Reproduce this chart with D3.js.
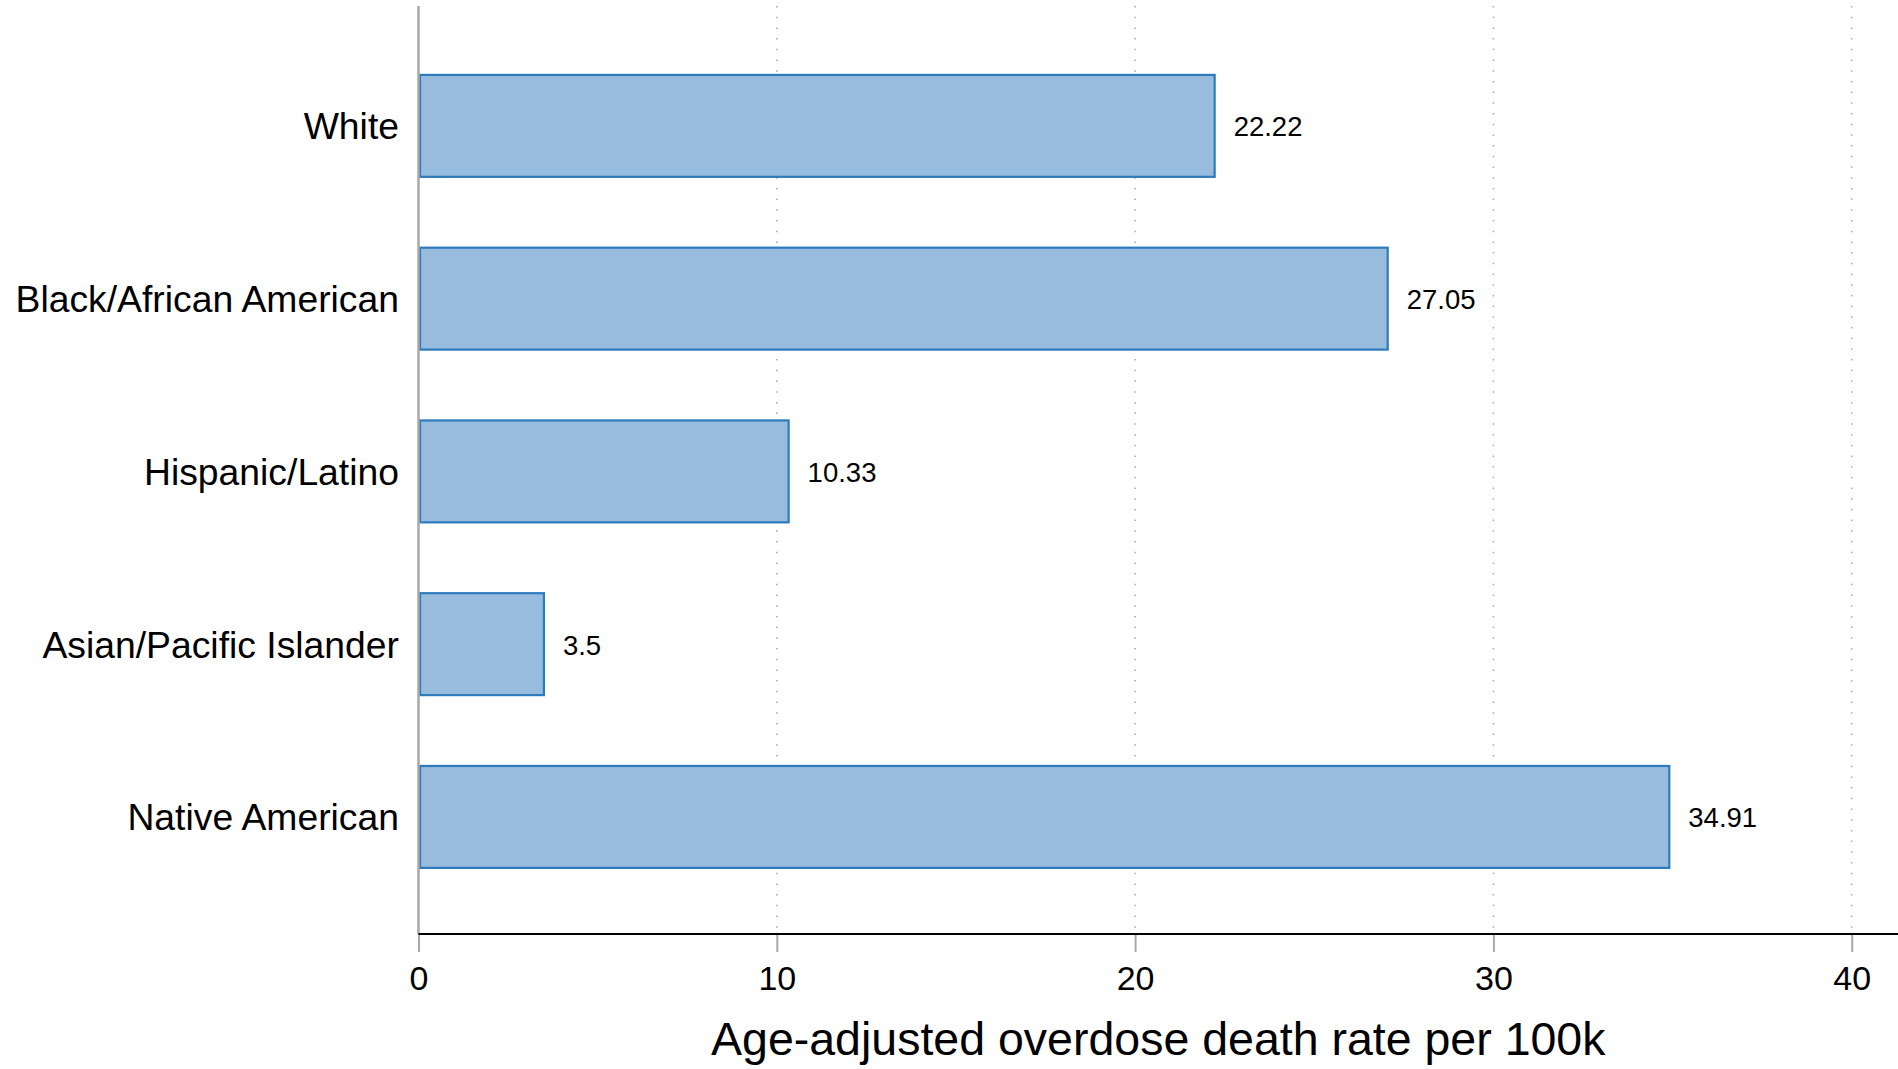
<!DOCTYPE html>
<html>
<head>
<meta charset="utf-8">
<script src="https://cdn.jsdelivr.net/npm/d3@7"></script>
<style>
  body { margin: 0; background: #fff; }
  text { font-family: "Liberation Sans", Arial, Helvetica, sans-serif; fill: #000; }
</style>
</head>
<body>
<svg id="chart" width="1898" height="1069"></svg>
<script>
const categories = ["White", "Black/African American", "Hispanic/Latino", "Asian/Pacific Islander", "Native American"];
const values = [22.22, 27.05, 10.33, 3.5, 34.91];
const valueLabels = ["22.22", "27.05", "10.33", "3.5", "34.91"];
const xTicks = [0, 10, 20, 30, 40];
const xTitle = "Age-adjusted overdose death rate per 100k";

const W = 1898, H = 1069;
const x0 = 418.5, x40 = 1851.7;
const axisY = 934;
const svg = d3.select("#chart");

const x = d3.scaleLinear().domain([0, 40]).range([x0, x40]);
const y = d3.scaleBand().domain(categories).range([39.5, 903.3]).paddingInner(0.41).paddingOuter(0.205);

// gridlines
svg.append("g").selectAll("line").data(xTicks.filter(d => d > 0)).join("line")
  .attr("x1", d => x(d)).attr("x2", d => x(d))
  .attr("y1", 6).attr("y2", axisY)
  .attr("stroke", "#a8a8a8").attr("stroke-width", 1.5)
  .attr("stroke-dasharray", "1.5,9.2");

// bars
svg.append("g").selectAll("rect").data(values).join("rect")
  .attr("x", x(0) + 1.5)
  .attr("y", (d, i) => y(categories[i]))
  .attr("width", d => x(d) - x(0) - 1.5)
  .attr("height", y.bandwidth())
  .attr("fill", "#97bcdd")
  .attr("stroke", "#2d7bbc")
  .attr("stroke-width", 2.2);

// value labels
svg.append("g").selectAll("text").data(values).join("text")
  .attr("x", d => x(d) + 19)
  .attr("y", (d, i) => y(categories[i]) + y.bandwidth() / 2 + 10.5)
  .attr("font-size", 27.5)
  .text((d, i) => valueLabels[i]);

// y axis line
svg.append("line").attr("x1", x0).attr("x2", x0).attr("y1", 6).attr("y2", axisY)
  .attr("stroke", "#a8a8a8").attr("stroke-width", 2.5);

// category labels
svg.append("g").selectAll("text").data(categories).join("text")
  .attr("x", 399)
  .attr("y", d => y(d) + y.bandwidth() / 2 + 13.5)
  .attr("text-anchor", "end")
  .attr("font-size", 37.3)
  .text(d => d);

// x axis
const xAxis = d3.axisBottom(x).tickValues(xTicks).tickSize(18).tickPadding(14).tickFormat(d3.format("d"));
const gx = svg.append("g").attr("transform", `translate(0,${axisY})`).call(xAxis);
gx.select(".domain").remove();
gx.selectAll(".tick line").attr("stroke", "#a8a8a8").attr("stroke-width", 2);
gx.selectAll(".tick text").attr("font-size", 34).attr("font-family", "Liberation Sans, Arial, sans-serif").attr("fill", "#000");
svg.append("line").attr("x1", x0).attr("x2", W).attr("y1", axisY).attr("y2", axisY)
  .attr("stroke", "#000").attr("stroke-width", 2);

// title
svg.append("text")
  .attr("x", (x0 + W) / 2)
  .attr("y", 1055)
  .attr("text-anchor", "middle")
  .attr("font-size", 46.5)
  .text(xTitle);
</script>
</body>
</html>
